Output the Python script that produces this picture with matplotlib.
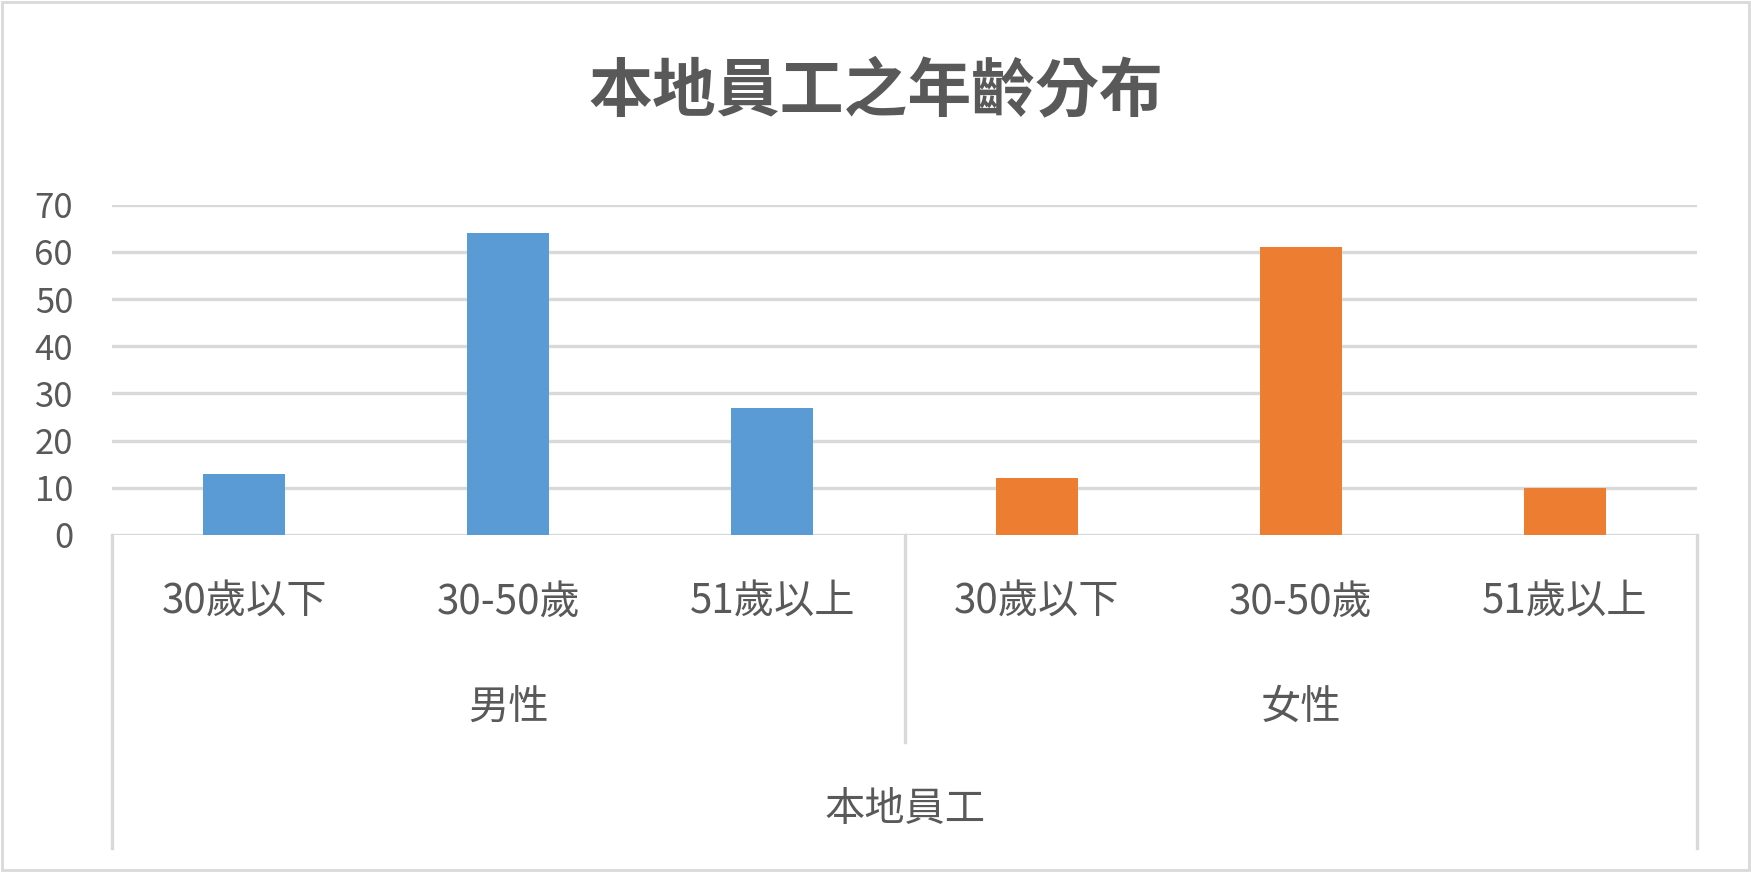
import matplotlib
matplotlib.use("Agg")
import matplotlib.pyplot as plt
from matplotlib.lines import Line2D
from matplotlib.patches import Rectangle

plt.rcParams["font.family"] = ["Noto Sans CJK TC", "DejaVu Sans"]

TITLE = "本地員工之年齡分布"
OUTER_LABEL = "本地員工"
GROUPS = ["男性", "女性"]
AGE_BANDS = ["30歲以下", "30-50歲", "51歲以上"]
MALE = [13, 64, 27]
FEMALE = [12, 61, 10]
Y_TICKS = [0, 10, 20, 30, 40, 50, 60, 70]

TEXT = "#595959"
GRID = "#d9d9d9"
COLORS = ["#5B9BD5", "#ED7D31"]

W, H = 1751, 872


def main():
    fig = plt.figure(figsize=(W / 100, H / 100), dpi=100)
    fig.patches.append(Rectangle((0.001, 0.002), 0.998, 0.996, transform=fig.transFigure,
                                 fill=False, edgecolor=GRID, linewidth=2))

    # plot area in pixels: x 112..1697, y 204.7 (70) .. 535 (0)
    left, right, top, bottom = 112, 1697, 204.7, 535
    ax = fig.add_axes([left / W, 1 - bottom / H, (right - left) / W, (bottom - top) / H])
    ax_h = bottom - top

    values = [MALE, FEMALE]
    n = len(AGE_BANDS)
    for g, vals in enumerate(values):
        xs = [g * n + i for i in range(n)]
        ax.bar(xs, vals, width=0.31, color=COLORS[g], zorder=3)

    total = n * len(GROUPS)
    ax.set_xlim(-0.5, total - 0.5)
    ax.set_ylim(0, 70)
    ax.set_yticks(Y_TICKS)
    ax.set_xticks([])
    ax.tick_params(axis="y", length=0, pad=28, labelsize=25, labelcolor=TEXT)
    ax.yaxis.grid(True, color=GRID, linewidth=2.4, zorder=0)
    ax.set_axisbelow(True)
    for s in ax.spines.values():
        s.set_visible(False)

    tr = ax.get_xaxis_transform()
    def fy(px):
        return (bottom - px) / ax_h

    # category labels
    for g, grp in enumerate(GROUPS):
        for i, band in enumerate(AGE_BANDS):
            ax.text(g * n + i, fy(602), band, transform=tr, ha="center", va="center",
                    fontsize=29, color=TEXT, clip_on=False)
        ax.text(g * n + (n - 1) / 2, fy(707), grp, transform=tr, ha="center", va="center",
                fontsize=29, color=TEXT, clip_on=False)
    ax.text((total - 1) / 2, fy(810), OUTER_LABEL, transform=tr, ha="center", va="center",
            fontsize=29, color=TEXT, clip_on=False)

    # separators of the multi-level axis
    for x, yend in [(-0.5, 848), (n - 0.5, 742), (total - 0.5, 848)]:
        ax.add_line(Line2D([x, x], [0, fy(yend)], transform=tr, color=GRID,
                           linewidth=2.4, clip_on=False))

    fig.text(0.5, 1 - 92 / H, TITLE, ha="center", va="center", fontsize=46,
             fontweight="bold", color=TEXT)

    fig.savefig("out.png", dpi=100)
    plt.close(fig)


if __name__ == "__main__":
    main()
